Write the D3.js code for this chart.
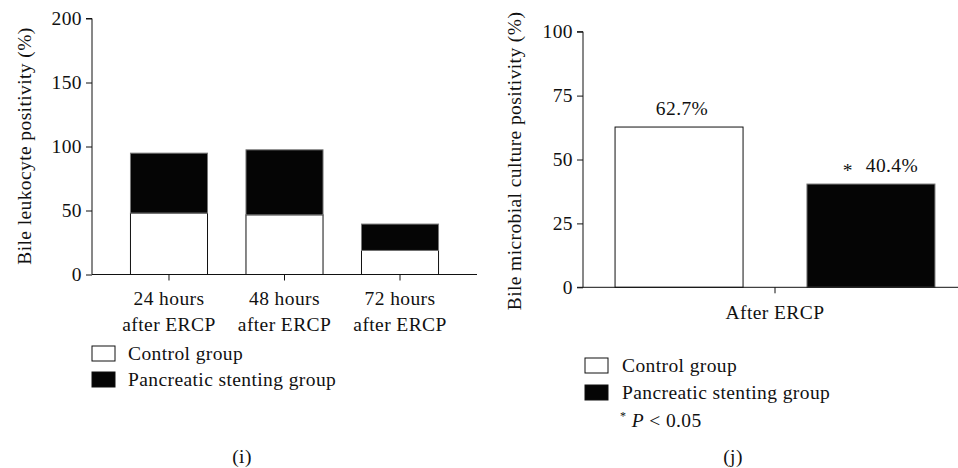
<!DOCTYPE html>
<html>
<head>
<meta charset="utf-8">
<script src="https://cdn.jsdelivr.net/npm/d3@7"></script>
<style>
  body { margin: 0; background: #fff; }
  svg text { font-family: "Liberation Serif", "DejaVu Serif", serif; fill: #111; letter-spacing: 0.4px; }
  .axis path, .axis line { stroke: #111; }
</style>
</head>
<body>
<svg id="chart" width="958" height="468"></svg>
<script>
// panel (i): bile leukocyte positivity, stacked
const timepoints = ["24 hours|after ERCP", "48 hours|after ERCP", "72 hours|after ERCP"];
const controlLeuko = [48, 46.6, 18.8];
const stentLeuko = [46.8, 50.8, 20.6];
const leukoTicks = [0, 50, 100, 150, 200];

// panel (j): bile microbial culture positivity
const cultureCategory = ["After ERCP"];
const groups = ["Control group", "Pancreatic stenting group"];
const cultureValues = [62.7, 40.4];
const cultureLabels = ["62.7%", "40.4%"];
const cultureTicks = [0, 25, 50, 75, 100];

const colors = ["#fff", "#050505"];

const svg = d3.select("#chart");
const fs = 19.5;

///////////////////////
/// PANEL (i)
///////////////////////

const yL = d3.scaleLinear().domain([0, 200]).range([274.5, 18.5]);
const xL = d3.scaleBand().domain(timepoints).range([92, 477]).padding(0.333);

const left = svg.append("g");

const stackData = timepoints.map((t, i) => ({t: t, control: controlLeuko[i], stent: stentLeuko[i]}));
const stacked = d3.stack().keys(["control", "stent"])(stackData);

left.append("g")
  .selectAll("g")
  .data(stacked)
  .enter()
  .append("g")
  .attr("fill", (d, i) => colors[i])
  .attr("stroke", (d, i) => i == 0 ? "#111" : "#777")
  .selectAll("rect")
  .data(d => d)
  .enter()
  .append("rect")
  .attr("x", d => xL(d.data.t))
  .attr("width", xL.bandwidth())
  .attr("y", d => yL(d[1]))
  .attr("height", d => yL(d[0]) - yL(d[1]))
  .attr("stroke-width", 1);

left.append("g")
  .attr("class", "axis")
  .attr("transform", "translate(92,0)")
  .call(d3.axisLeft(yL).tickValues(leukoTicks).tickSize(6).tickPadding(4))
  .call(g => g.selectAll("text").attr("font-size", fs).attr("font-family", null))
  .call(g => g.select(".domain").attr("d", "M-6,18.5H0V274.5"));

const xAxisL = left.append("g")
  .attr("class", "axis")
  .attr("transform", "translate(0,274.5)")
  .call(d3.axisBottom(xL).tickSize(6).tickSizeOuter(0).tickFormat(""));
xAxisL.select(".domain").attr("d", "M92,0H477");

xAxisL.selectAll(".tick")
  .append("text")
  .attr("text-anchor", "middle")
  .attr("font-size", fs)
  .selectAll("tspan")
  .data(d => d.split("|"))
  .enter()
  .append("tspan")
  .attr("x", 0)
  .attr("y", (d, i) => 30 + i * 26)
  .text(d => d);

left.append("text")
  .attr("transform", "translate(31,146) rotate(-90)")
  .attr("text-anchor", "middle")
  .attr("font-size", fs)
  .text("Bile leukocyte positivity (%)");

const legL = left.append("g")
  .selectAll("g")
  .data(groups)
  .enter()
  .append("g")
  .attr("transform", (d, i) => `translate(92,${346 + i * 26})`);
legL.append("rect")
  .attr("width", 23).attr("height", 15)
  .attr("fill", (d, i) => colors[i])
  .attr("stroke", "#111");
legL.append("text")
  .attr("x", 36).attr("y", 14)
  .attr("font-size", fs)
  .text(d => d);

left.append("text")
  .attr("x", 242).attr("y", 463)
  .attr("text-anchor", "middle")
  .attr("font-size", fs)
  .text("(i)");

///////////////////////
/// PANEL (j)
///////////////////////

const yR = d3.scaleLinear().domain([0, 100]).range([287.3, 31.7]);
const x0 = d3.scaleBand().domain(cultureCategory).range([583, 967]);
const x1 = d3.scaleBand().domain(groups).range([0, x0.bandwidth()]).paddingInner(0.333).paddingOuter(0.167);

const right = svg.append("g");

right.append("g")
  .selectAll("rect")
  .data(groups)
  .enter()
  .append("rect")
  .attr("x", d => x0("After ERCP") + x1(d))
  .attr("width", x1.bandwidth())
  .attr("y", (d, i) => yR(cultureValues[i]))
  .attr("height", (d, i) => yR(0) - yR(cultureValues[i]))
  .attr("fill", (d, i) => colors[i])
  .attr("stroke", (d, i) => i == 0 ? "#111" : "#777");

right.append("g")
  .selectAll("text")
  .data(groups)
  .enter()
  .append("text")
  .attr("x", (d, i) => x0("After ERCP") + x1(d) + x1.bandwidth() / 2 + (i == 1 ? 21 : 3))
  .attr("y", (d, i) => yR(cultureValues[i]) - 12)
  .attr("text-anchor", "middle")
  .attr("font-size", fs)
  .text((d, i) => cultureLabels[i]);

// significance star
right.append("text")
  .attr("x", x0("After ERCP") + x1(groups[1]) + 41)
  .attr("y", yR(cultureValues[1]) - 7)
  .attr("text-anchor", "middle")
  .attr("font-size", fs)
  .text("*");

right.append("g")
  .attr("class", "axis")
  .attr("transform", "translate(583,0)")
  .call(d3.axisLeft(yR).tickValues(cultureTicks).tickSize(6).tickPadding(4))
  .call(g => g.selectAll("text").attr("font-size", fs).attr("font-family", null))
  .call(g => g.select(".domain").attr("d", "M-6,31.7H0V287.3"));

const xAxisR = right.append("g")
  .attr("class", "axis")
  .attr("transform", "translate(0,287.3)")
  .call(d3.axisBottom(x0).tickSize(6).tickSizeOuter(0).tickPadding(12))
  .call(g => g.selectAll("text").attr("font-size", fs).attr("font-family", null));
xAxisR.select(".domain").attr("d", "M577,0H958");

right.append("text")
  .attr("transform", "translate(521,161) rotate(-90)")
  .attr("text-anchor", "middle")
  .attr("font-size", fs)
  .text("Bile microbial culture positivity (%)");

const legR = right.append("g")
  .selectAll("g")
  .data(groups)
  .enter()
  .append("g")
  .attr("transform", (d, i) => `translate(585,${358 + i * 27})`);
legR.append("rect")
  .attr("width", 23).attr("height", 15)
  .attr("fill", (d, i) => colors[i])
  .attr("stroke", "#111");
legR.append("text")
  .attr("x", 37).attr("y", 14)
  .attr("font-size", fs)
  .text(d => d);

const note = right.append("text")
  .attr("x", 620).attr("y", 427)
  .attr("font-size", fs);
note.append("tspan").attr("font-size", 12).attr("dy", -7).text("*");
note.append("tspan").attr("dy", 7).attr("font-style", "italic").text(" P");
note.append("tspan").text(" < 0.05");

right.append("text")
  .attr("x", 733).attr("y", 463)
  .attr("text-anchor", "middle")
  .attr("font-size", fs)
  .text("(j)");
</script>
</body>
</html>
